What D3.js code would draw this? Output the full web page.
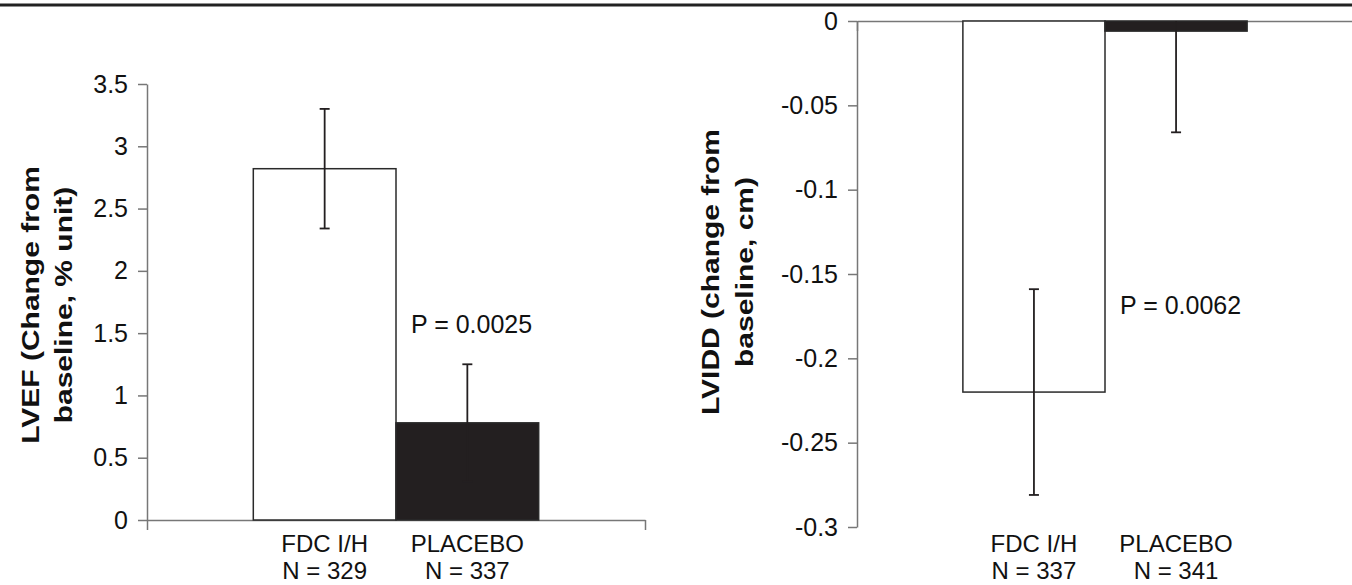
<!DOCTYPE html>
<html>
<head>
<meta charset="utf-8">
<script src="https://cdn.jsdelivr.net/npm/d3@7"></script>
<style>
  body { margin: 0; background: #fff; }
  svg { display: block; }
  text { font-family: "Liberation Sans", Arial, sans-serif; fill: #111; }
</style>
</head>
<body>
<div id="chart"></div>
<script>
var groups = ["FDC I/H", "PLACEBO"];
var fills = ["#ffffff", "#231f20"];

var lvefN = ["N = 329", "N = 337"];
var lvefMean = [2.82, 0.78];
var lvefErr = [0.48, 0.47];
var lvefTicks = [0, 0.5, 1, 1.5, 2, 2.5, 3, 3.5];
var lvefTickLabels = ["0", "0.5", "1", "1.5", "2", "2.5", "3", "3.5"];
var lvefTitle = ["LVEF (Change from", "baseline, % unit)"];
var lvefP = {text: "P = 0.0025", y: 1.5};

var lviddN = ["N = 337", "N = 341"];
var lviddMean = [-0.22, -0.006];
var lviddErr = [0.061, 0.06];
var lviddTicks = [0, -0.05, -0.1, -0.15, -0.2, -0.25, -0.3];
var lviddTickLabels = ["0", "-0.05", "-0.1", "-0.15", "-0.2", "-0.25", "-0.3"];
var lviddTitle = ["LVIDD (change from", "baseline, cm)"];
var lviddP = {text: "P = 0.0062", y: -0.174};

var svg = d3.select("#chart").append("svg")
    .attr("width", 1352)
    .attr("height", 585);

// rule across the top of the page
svg.append("line")
    .attr("x1", 0).attr("x2", 1352)
    .attr("y1", 5).attr("y2", 5)
    .attr("stroke", "#222")
    .attr("stroke-width", 3);

function barChart(opt) {
    var g = svg.append("g");

    var yScale = d3.scaleLinear()
        .domain(opt.domain)
        .range([opt.bottom, opt.top]);

    var xScale = d3.scaleBand()
        .domain(groups)
        .range([opt.left, opt.right])
        .paddingInner(0)
        .paddingOuter(0.745);

    var data = groups.map((k, i) => ({
        key: k, mean: opt.mean[i], err: opt.err[i], n: opt.n[i], fill: fills[i]
    }));

    // y axis
    var yAxis = g.append("g")
        .attr("transform", `translate(${opt.left},0)`)
        .call(d3.axisLeft(yScale)
            .tickValues(opt.ticks)
            .tickFormat((d, i) => opt.tickLabels[i])
            .tickSize(9)
            .tickSizeOuter(0)
            .tickPadding(10));
    yAxis.select(".domain").attr("stroke", "#777").attr("stroke-width", 1.5);
    yAxis.selectAll(".tick line").attr("stroke", "#777").attr("stroke-width", 1.5);
    yAxis.selectAll(".tick text")
        .attr("font-size", "25px")
        .attr("fill", "#111")
        .attr("font-family", "Liberation Sans, Arial, sans-serif");

    // category axis along zero, ticks only at both ends
    var edge = d3.scaleLinear().domain([0, 1]).range([opt.left, opt.right]);
    var xAxis = g.append("g")
        .attr("transform", `translate(0,${yScale(0)})`)
        .call(d3.axisBottom(edge).tickValues([0, 1]).tickFormat("").tickSize(10).tickSizeOuter(0));
    xAxis.select(".domain").attr("stroke", "#777").attr("stroke-width", 1.5);
    xAxis.selectAll(".tick line").attr("stroke", "#777").attr("stroke-width", 1.5);

    // bars
    g.selectAll("rect.bar")
        .data(data)
        .enter().append("rect")
        .attr("class", "bar")
        .attr("x", d => xScale(d.key))
        .attr("width", xScale.bandwidth())
        .attr("y", d => yScale(Math.max(0, d.mean)))
        .attr("height", d => Math.abs(yScale(d.mean) - yScale(0)))
        .attr("fill", d => d.fill)
        .attr("stroke", "#2a2a2a")
        .attr("stroke-width", 1.5);

    // error bars, cut at the plot edge
    var lo = d3.min(opt.domain), hi = d3.max(opt.domain);
    var eb = g.selectAll("g.err")
        .data(data)
        .enter().append("g")
        .attr("class", "err")
        .attr("stroke", "#231f20")
        .attr("stroke-width", 1.8);
    eb.append("line")
        .attr("x1", d => xScale(d.key) + xScale.bandwidth() / 2)
        .attr("x2", d => xScale(d.key) + xScale.bandwidth() / 2)
        .attr("y1", d => yScale(Math.min(hi, d.mean + d.err)))
        .attr("y2", d => yScale(Math.max(lo, d.mean - d.err)));
    eb.each(function(d) {
        var cx = xScale(d.key) + xScale.bandwidth() / 2;
        [d.mean + d.err, d.mean - d.err].forEach(v => {
            if (v > hi || v < lo) return;
            d3.select(this).append("line")
                .attr("x1", cx - 5).attr("x2", cx + 5)
                .attr("y1", yScale(v)).attr("y2", yScale(v));
        });
    });

    // category labels
    var lab = g.selectAll("g.cat")
        .data(data)
        .enter().append("g")
        .attr("class", "cat");
    lab.append("text")
        .attr("x", d => xScale(d.key) + xScale.bandwidth() / 2)
        .attr("y", 552)
        .attr("text-anchor", "middle")
        .attr("font-size", "24px")
        .text(d => d.key);
    lab.append("text")
        .attr("x", d => xScale(d.key) + xScale.bandwidth() / 2)
        .attr("y", 579)
        .attr("text-anchor", "middle")
        .attr("font-size", "24px")
        .text(d => d.n);

    // p value
    g.append("text")
        .attr("x", xScale(groups[1]) + 15)
        .attr("y", yScale(opt.p.y))
        .attr("font-size", "25px")
        .text(opt.p.text);

    // y title, two lines
    opt.title.forEach((t, i) => {
        g.append("text")
            .attr("transform", `translate(${opt.titleX[i]},${opt.titleY}) rotate(-90) scale(1.25,1)`)
            .attr("text-anchor", "middle")
            .attr("font-size", "24px")
            .attr("font-weight", "bold")
            .text(t);
    });
}

barChart({
    left: 147, right: 645, top: 84, bottom: 520,
    domain: [0, 3.5],
    mean: lvefMean, err: lvefErr, n: lvefN,
    ticks: lvefTicks, tickLabels: lvefTickLabels,
    title: lvefTitle, titleX: [39, 72], titleY: 305,
    p: lvefP
});

barChart({
    left: 857, right: 1353, top: 21, bottom: 527,
    domain: [-0.3, 0],
    mean: lviddMean, err: lviddErr, n: lviddN,
    ticks: lviddTicks, tickLabels: lviddTickLabels,
    title: lviddTitle, titleX: [719, 753], titleY: 272,
    p: lviddP
});
</script>
</body>
</html>
